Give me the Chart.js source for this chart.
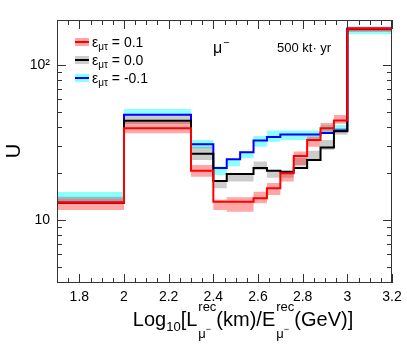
<!DOCTYPE html>
<html>
<head>
<meta charset="utf-8">
<script src="https://cdn.jsdelivr.net/npm/chart.js@4"></script>
<style>
    html, body { margin: 0; padding: 0; background: #fff; }
</style>
</head>
<body>
<canvas id="grafica-u" width="407" height="344"></canvas>
<script>
// bin edges of the histogram (Log10 L/E)
const binEdges = [1.7, 2.0, 2.3, 2.4, 2.46, 2.52, 2.58, 2.64, 2.7, 2.76, 2.82, 2.88, 2.94, 3.0, 3.2];

// eps_mutau = 0.1
const redValues = [12.9, 39.0, 20.8, 13.1, 13.1, 13.1, 13.8, 16.0, 20.0, 25.9, 32.8, 39.0, 43.8, 171];
const redLow    = [11.6, 36.3, 19.0, 11.6, 11.3, 11.3, 12.8, 14.5, 17.7, 22.6, 29.7, 37.1, 41.8, 164];
const redHigh   = [13.7, 42.9, 22.6, 13.5, 14.0, 14.0, 15.2, 17.3, 20.5, 27.6, 34.5, 42.2, 47.6, 177];

// eps_mutau = 0.0
const blackValues = [12.9, 43.7, 26.7, 17.85, 19.8, 19.8, 21.6, 20.8, 20.5, 21.6, 24.4, 29.3, 37.3, 171];
const blackLow    = [12.9, 41.6, 24.4, 16.0, 17.7, 17.7, 21.0, 18.7, 18.7, 22.1, 24.0, 28.3, 35.4, 165];
const blackHigh   = [14.1, 47.6, 29.7, 18.0, 20.0, 20.0, 23.8, 21.0, 20.8, 25.1, 28.0, 32.8, 39.2, 174];

// eps_mutau = -0.1
const blueValues = [12.9, 47.8, 30.8, 21.6, 24.6, 27.35, 32.5, 34.3, 35.6, 35.6, 35.6, 36.4, 37.7, 171];
const blueLow    = [13.7, 47.6, 29.0, 19.5, 22.3, 25.0, 29.7, 32.0, 32.8, 32.8, 32.8, 36.5, 37.7, 158];
const blueHigh   = [15.15, 52.0, 32.8, 22.1, 24.6, 27.6, 34.8, 37.7, 37.7, 37.7, 37.7, 41.0, 41.0, 172];

const xTicks = [1.8, 2.0, 2.2, 2.4, 2.6, 2.8, 3.0, 3.2];
const xTickLabels = ['1.8', '2', '2.2', '2.4', '2.6', '2.8', '3', '3.2'];
const yTicks = [10, 100];
const yTickLabels = ['10', '10²'];

const legendLabels = ['0.1', '0.0', '-0.1'];

const FUENTE = "'Liberation Sans', Arial, Helvetica, sans-serif";

function escalones(values) {
    const puntos = values.map((v, i) => ({ x: binEdges[i], y: v }));
    puntos.push({ x: binEdges[binEdges.length - 1], y: values[values.length - 1] });
    return puntos;
}

function linea(values, color, orden) {
    return {
        data: escalones(values),
        borderColor: color,
        borderWidth: 2,
        pointRadius: 0,
        stepped: true,
        fill: false,
        order: orden
    };
}

function banda(values, color, relleno, orden) {
    return {
        data: escalones(values),
        borderColor: 'transparent',
        borderWidth: 0,
        backgroundColor: color,
        pointRadius: 0,
        stepped: true,
        fill: relleno,
        order: orden
    };
}

const colores = {
    rojo: '#ff0000', rosa: 'rgba(255, 0, 0, 0.35)',
    negro: '#000000', gris: 'rgba(0, 0, 0, 0.2)',
    azul: '#0000ff', cian: 'rgba(0, 255, 255, 0.45)'
};

// frame, inward ticks, legend and labels ROOT-style
const marco = {
    id: 'marco',
    afterDraw(chart) {
        const { ctx, chartArea: a, scales: { x, y } } = chart;
        ctx.save();

        ctx.strokeStyle = '#333';
        ctx.lineWidth = 1;
        ctx.strokeRect(a.left + 0.5, a.top + 0.5, a.right - a.left - 1, a.bottom - a.top - 1);

        ctx.beginPath();
        for (let k = 34; k <= 64; k++) {
            const px = Math.round(x.getPixelForValue(k * 0.05)) + 0.5;
            const largo = (k % 4 === 0) ? 9 : 5;
            ctx.moveTo(px, a.bottom); ctx.lineTo(px, a.bottom - largo);
            ctx.moveTo(px, a.top); ctx.lineTo(px, a.top + largo);
        }
        [1, 10, 100].forEach(dec => {
            for (let m = 1; m <= 9; m++) {
                const v = m * dec;
                if (v < y.min || v > y.max) continue;
                const py = Math.round(y.getPixelForValue(v)) + 0.5;
                const largo = (m === 1) ? 9 : 5;
                ctx.moveTo(a.left, py); ctx.lineTo(a.left + largo, py);
                ctx.moveTo(a.right, py); ctx.lineTo(a.right - largo, py);
            }
        });
        ctx.stroke();

        // legend
        const entradas = [
            [colores.rosa, colores.rojo],
            [colores.gris, colores.negro],
            [colores.cian, colores.azul]
        ];
        ctx.textBaseline = 'alphabetic';
        ctx.textAlign = 'left';
        entradas.forEach((e, i) => {
            const cy = 42 + i * 18;
            ctx.fillStyle = e[0];
            ctx.fillRect(75, cy - 4, 14, 8);
            ctx.strokeStyle = e[1];
            ctx.lineWidth = 2;
            ctx.beginPath(); ctx.moveTo(75, cy); ctx.lineTo(89, cy); ctx.stroke();
            ctx.fillStyle = '#000';
            let tx = 92;
            ctx.font = '14px ' + FUENTE;
            ctx.fillText('ε', tx, cy + 5);
            tx += ctx.measureText('ε').width;
            ctx.font = '10px ' + FUENTE;
            ctx.fillText('μτ', tx, cy + 8);
            tx += ctx.measureText('μτ').width;
            ctx.font = '14px ' + FUENTE;
            ctx.fillText(' = ' + legendLabels[i], tx, cy + 5);
        });

        // mu- and exposure
        ctx.fillStyle = '#000';
        ctx.font = '16px ' + FUENTE;
        ctx.fillText('μ', 213, 53);
        let mx = 213 + ctx.measureText('μ').width + 1;
        ctx.font = '11px ' + FUENTE;
        ctx.fillText('−', mx, 46);
        ctx.font = '13px ' + FUENTE;
        ctx.fillText('500 kt· yr', 277, 52);

        // x title with sub/superscripts
        const base = 326;
        const trozos = [
            { t: 'Log', s: 20 },
            { t: '10', s: 13, dy: 5 },
            { t: '[L', s: 20 },
            { sup: 'rec', sub: 'μ⁻' },
            { t: '(km)/E', s: 20 },
            { sup: 'rec', sub: 'μ⁻' },
            { t: '(GeV)]', s: 20 }
        ];
        const ancho = (tr) => {
            if (tr.sup) {
                ctx.font = '13px ' + FUENTE;
                const w1 = ctx.measureText(tr.sup).width;
                const w2 = ctx.measureText('μ').width + 7;
                return Math.max(w1, w2) + 1;
            }
            ctx.font = tr.s + 'px ' + FUENTE;
            return ctx.measureText(tr.t).width;
        };
        const total = trozos.reduce((s, tr) => s + ancho(tr), 0);
        let tx = 243 - total / 2;
        trozos.forEach(tr => {
            const w = ancho(tr);
            if (tr.sup) {
                ctx.font = '13px ' + FUENTE;
                ctx.fillText(tr.sup, tx + 1, base - 15);
                ctx.fillText('μ', tx + 1, base + 12);
                const wm = ctx.measureText('μ').width;
                ctx.font = '9px ' + FUENTE;
                ctx.fillText('−', tx + 1 + wm, base + 6);
            } else {
                ctx.font = tr.s + 'px ' + FUENTE;
                ctx.fillText(tr.t, tx, base + (tr.dy || 0));
            }
            tx += w;
        });

        // y title
        ctx.save();
        ctx.translate(20, 151);
        ctx.rotate(-Math.PI / 2);
        ctx.textAlign = 'center';
        ctx.font = '20px ' + FUENTE;
        ctx.fillText('U', 0, 0);
        ctx.restore();

        ctx.restore();
    }
};

const grafica = document.querySelector('#grafica-u');
new Chart(grafica.getContext('2d'), {
    type: 'line',
    data: {
        datasets: [
            linea(redValues, colores.rojo, 0),
            linea(blackValues, colores.negro, 1),
            linea(blueValues, colores.azul, 2),
            banda(redHigh, colores.rosa, '+1', 3),
            banda(redLow, 'transparent', false, 3),
            banda(blackHigh, colores.gris, '+1', 4),
            banda(blackLow, 'transparent', false, 4),
            banda(blueHigh, colores.cian, '+1', 5),
            banda(blueLow, 'transparent', false, 5)
        ]
    },
    options: {
        responsive: false,
        animation: false,
        devicePixelRatio: 1,
        layout: { padding: { top: 20, right: 15, left: 0, bottom: 0 } },
        scales: {
            x: {
                type: 'linear',
                min: 1.7,
                max: 3.2,
                grid: { display: false, drawTicks: false },
                border: { display: false },
                afterBuildTicks: (s) => { s.ticks = xTicks.map(v => ({ value: v })); },
                afterFit: (s) => { s.height = 61; s.paddingLeft = 0; s.paddingRight = 0; },
                ticks: {
                    autoSkip: false,
                    maxRotation: 0,
                    padding: 6,
                    color: '#000',
                    font: { family: FUENTE, size: 14 },
                    callback: (v) => xTickLabels[xTicks.findIndex(t => Math.abs(t - v) < 1e-6)]
                }
            },
            y: {
                type: 'logarithmic',
                min: 3.92,
                max: 195,
                grid: { display: false, drawTicks: false },
                border: { display: false },
                afterBuildTicks: (s) => { s.ticks = yTicks.map(v => ({ value: v })); },
                afterFit: (s) => { s.width = 57; },
                ticks: {
                    autoSkip: false,
                    padding: 7,
                    color: '#000',
                    font: { family: FUENTE, size: 14 },
                    callback: (v) => yTickLabels[yTicks.indexOf(v)]
                }
            }
        },
        plugins: {
            legend: { display: false },
            tooltip: { enabled: false }
        }
    },
    plugins: [marco]
});
</script>
</body>
</html>
